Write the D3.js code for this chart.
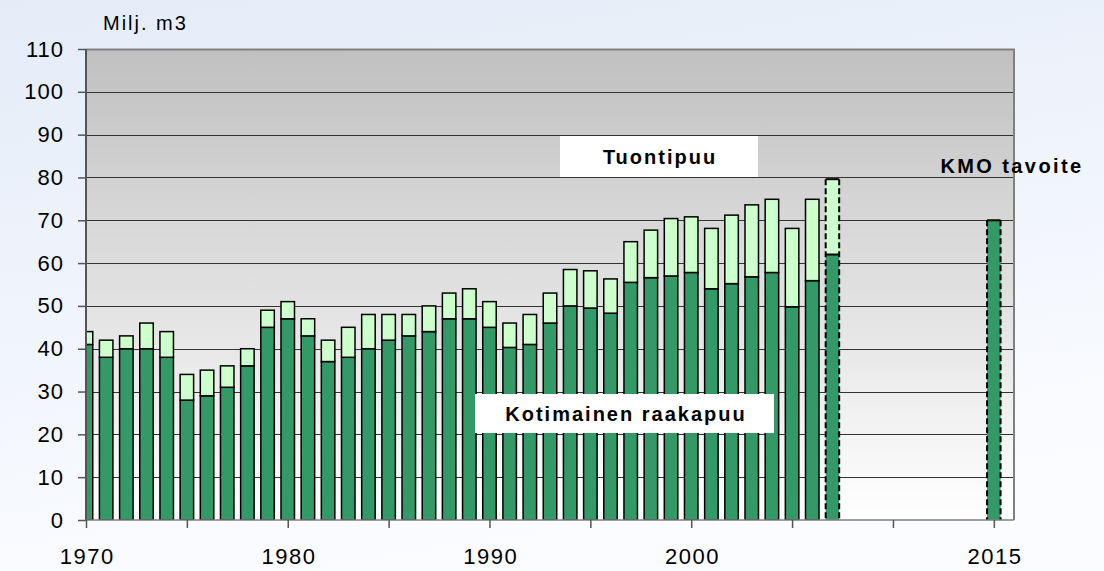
<!DOCTYPE html>
<html>
<head>
<meta charset="utf-8">
<script src="https://cdn.jsdelivr.net/npm/d3@7"></script>
<style>
  html, body { margin: 0; padding: 0; }
  body { width: 1104px; height: 571px; overflow: hidden; }
  text { font-family: "Liberation Sans", Arial, sans-serif; }
</style>
</head>
<body>
<div id="wrapper"></div>
<script>
// vuodet ja määrät (milj. m3)
const years = [1970, 1971, 1972, 1973, 1974, 1975, 1976, 1977, 1978, 1979,
    1980, 1981, 1982, 1983, 1984, 1985, 1986, 1987, 1988, 1989,
    1990, 1991, 1992, 1993, 1994, 1995, 1996, 1997, 1998, 1999,
    2000, 2001, 2002, 2003, 2004, 2005, 2006, 2007];
const domestic = [41, 38, 40, 40, 38, 28, 29, 31, 36, 45,
    47, 43, 37, 38, 40, 42, 43, 44, 47, 47,
    45, 40.3, 41, 46, 50, 49.5, 48.3, 55.5, 56.6, 57,
    57.8, 54, 55.2, 56.8, 57.8, 49.8, 55.9, 62];
const imports = [3, 4, 3, 6, 6, 6, 6, 5, 4, 4,
    4, 4, 5, 7, 8, 6, 5, 6, 6, 7,
    6, 5.7, 7, 7, 8.5, 8.7, 8, 9.5, 11.1, 13.4,
    13, 14.1, 16, 16.8, 17.1, 18.3, 19, 17.6];
const dashedYears = [2007];
const targetYear = 2015;
const targetValue = 70;
const xTickYears = [1970, 1975, 1980, 1985, 1990, 1995, 2000, 2005, 2010, 2015];
const xLabelYears = [1970, 1980, 1990, 2000, 2015];
const yTicks = [0, 10, 20, 30, 40, 50, 60, 70, 80, 90, 100, 110];

const dimensions = {
    width: 1104,
    height: 571,
    margin: { top: 49, right: 90, bottom: 51, left: 86 },
};
dimensions.boundedWidth = dimensions.width - dimensions.margin.left - dimensions.margin.right;
dimensions.boundedHeight = dimensions.height - dimensions.margin.top - dimensions.margin.bottom;

const wrapper = d3.select("#wrapper")
    .append("svg")
    .attr("width", dimensions.width)
    .attr("height", dimensions.height);

const defs = wrapper.append("defs");
const pageGrad = defs.append("linearGradient")
    .attr("id", "pageGrad").attr("x1", 0).attr("y1", 0).attr("x2", 0.3).attr("y2", 1);
pageGrad.append("stop").attr("offset", "0%").attr("stop-color", "#e4ecf8");
pageGrad.append("stop").attr("offset", "100%").attr("stop-color", "#fbfcff");
const plotGrad = defs.append("linearGradient")
    .attr("id", "plotGrad").attr("x1", 0).attr("y1", 0).attr("x2", 0).attr("y2", 1);
plotGrad.append("stop").attr("offset", "0%").attr("stop-color", "#c0c0c0");
plotGrad.append("stop").attr("offset", "100%").attr("stop-color", "#ffffff");
defs.append("clipPath").attr("id", "plotClip")
    .append("rect")
    .attr("width", dimensions.boundedWidth)
    .attr("height", dimensions.boundedHeight + 2)
    .attr("y", -2);

wrapper.append("rect")
    .attr("width", dimensions.width)
    .attr("height", dimensions.height)
    .attr("fill", "url(#pageGrad)");

const bounds = wrapper.append("g")
    .attr("transform", `translate(${dimensions.margin.left},${dimensions.margin.top})`);

const yScale = d3.scaleLinear()
    .domain([0, 110])
    .range([dimensions.boundedHeight, 0]);
const xScale = d3.scaleLinear()
    .domain([1970, 2016])
    .range([0, dimensions.boundedWidth]);
const barWidth = 13.5;

bounds.append("rect")
    .attr("width", dimensions.boundedWidth)
    .attr("height", dimensions.boundedHeight)
    .attr("fill", "url(#plotGrad)");

// gridlines
bounds.append("g")
    .selectAll("line")
    .data(yTicks.filter((d) => d > 0 && d < 110))
    .join("line")
    .attr("x1", 0)
    .attr("x2", dimensions.boundedWidth)
    .attr("y1", (d) => Math.round(yScale(d)) + 0.5)
    .attr("y2", (d) => Math.round(yScale(d)) + 0.5)
    .attr("stroke", "#333")
    .attr("stroke-width", 1);

// frame top / right
bounds.append("path")
    .attr("d", `M0,0.5H${dimensions.boundedWidth}V${dimensions.boundedHeight}`)
    .attr("fill", "none")
    .attr("stroke", "#808080")
    .attr("stroke-width", 2);

const barsG = bounds.append("g").attr("clip-path", "url(#plotClip)");
const rows = years.map((y, i) => ({ year: y, domestic: domestic[i], imports: imports[i] }));
const stacked = d3.stack().keys(["domestic", "imports"])(rows);
const colors = { domestic: "#339966", imports: "#ccffcc" };

stacked.forEach((layer) => {
    barsG.append("g")
        .selectAll("rect")
        .data(layer)
        .join("rect")
        .attr("x", (d) => xScale(d.data.year) - barWidth / 2)
        .attr("width", barWidth)
        .attr("y", (d) => yScale(d[1]))
        .attr("height", (d) => yScale(d[0]) - yScale(d[1]))
        .attr("fill", colors[layer.key])
        .attr("stroke", (d) => dashedYears.includes(d.data.year) ? "none" : "#000")
        .attr("stroke-width", 1.5);
});

// arvioidut / tavoite: katkoviivareunat
const dashedBars = rows.filter((d) => dashedYears.includes(d.year))
    .map((d) => ({ year: d.year, top: d.domestic + d.imports, mid: d.domestic }))
    .concat([{ year: targetYear, top: targetValue, mid: null }]);

barsG.append("g")
    .selectAll("rect")
    .data([{ year: targetYear, value: targetValue }])
    .join("rect")
    .attr("x", (d) => xScale(d.year) - barWidth / 2)
    .attr("width", barWidth)
    .attr("y", (d) => yScale(d.value))
    .attr("height", (d) => yScale(0) - yScale(d.value))
    .attr("fill", colors.domestic);

dashedBars.forEach((d) => {
    const x0 = xScale(d.year) - barWidth / 2;
    const x1 = xScale(d.year) + barWidth / 2;
    const g = barsG.append("g")
        .attr("stroke", "#000")
        .attr("stroke-width", 2)
        .attr("fill", "none");
    [x0, x1].forEach((x) => {
        g.append("line")
            .attr("x1", x).attr("x2", x)
            .attr("y1", yScale(d.top)).attr("y2", yScale(0))
            .attr("stroke-dasharray", "6,3");
    });
    g.append("line")
        .attr("x1", x0).attr("x2", x1)
        .attr("y1", yScale(d.top)).attr("y2", yScale(d.top));
    if (d.mid !== null) {
        g.append("line")
            .attr("x1", x0).attr("x2", x1)
            .attr("y1", yScale(d.mid)).attr("y2", yScale(d.mid));
    }
});

// y axis
const yAxisGenerator = d3.axisLeft(yScale)
    .tickValues(yTicks)
    .tickSize(8)
    .tickPadding(14);
const yAxis = bounds.append("g").call(yAxisGenerator);
yAxis.select(".domain").attr("stroke", "#555").attr("stroke-width", 2).attr("d", `M0,0V${dimensions.boundedHeight}`);
yAxis.selectAll(".tick line").attr("stroke", "#555").attr("stroke-width", 1.5);
yAxis.selectAll("text")
    .style("font-size", "22px")
    .style("letter-spacing", "1px")
    .attr("fill", "#000")
    .attr("font-family", "'Liberation Sans', Arial, sans-serif");

// x axis
const xAxisGenerator = d3.axisBottom(xScale)
    .tickValues(xTickYears)
    .tickSize(8)
    .tickFormat((d) => xLabelYears.includes(d) ? d : "")
    .tickPadding(20);
const xAxis = bounds.append("g")
    .call(xAxisGenerator)
    .attr("transform", `translate(0,${dimensions.boundedHeight})`);
xAxis.select(".domain").attr("stroke", "#808080").attr("stroke-width", 1.5).attr("d", `M0,0H${dimensions.boundedWidth}`);
xAxis.selectAll(".tick line").attr("stroke", "#555").attr("stroke-width", 1.5);
xAxis.selectAll("text")
    .style("font-size", "22px")
    .style("letter-spacing", "1.5px")
    .attr("dx", "0.75px")
    .attr("fill", "#000")
    .attr("font-family", "'Liberation Sans', Arial, sans-serif");

// yksikkö
wrapper.append("text")
    .attr("x", 103)
    .attr("y", 30)
    .style("font-size", "20px")
    .style("letter-spacing", "2px")
    .text("Milj. m3");

// selitelaatikot
function boxLabel(text, xs, ys, cx, cy) {
    bounds.append("rect")
        .attr("x", xs[0]).attr("width", xs[1] - xs[0])
        .attr("y", ys[0]).attr("height", ys[1] - ys[0])
        .attr("fill", "#fff");
    bounds.append("text")
        .attr("x", cx).attr("y", cy)
        .attr("text-anchor", "middle")
        .attr("dominant-baseline", "central")
        .style("font-size", "20px")
        .style("font-weight", "bold")
        .style("letter-spacing", "2px")
        .text(text);
}
boxLabel("Tuontipuu", [560 - 86, 758 - 86], [136 - 49, 177 - 49], 660 - 86, 157 - 49);
boxLabel("Kotimainen raakapuu", [475 - 86, 774 - 86], [394 - 49, 433 - 49], 626 - 86, 414 - 49);

wrapper.append("text")
    .attr("x", 1012)
    .attr("y", 166)
    .attr("text-anchor", "middle")
    .attr("dominant-baseline", "central")
    .style("font-size", "20px")
    .style("font-weight", "bold")
    .style("letter-spacing", "2.4px")
    .text("KMO tavoite");
</script>
</body>
</html>
